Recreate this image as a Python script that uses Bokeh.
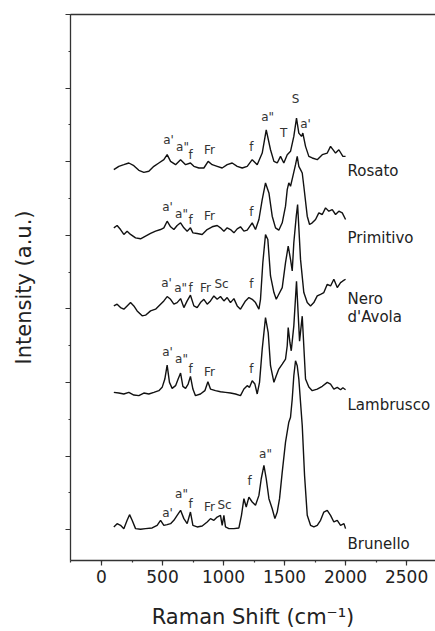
from bokeh.plotting import figure
from bokeh.models import Range1d, LinearAxis, SingleIntervalTicker, FixedTicker, CustomJSTickFormatter
from bokeh.core.properties import value
from bokeh.embed import file_html
from bokeh.resources import INLINE

# ---------------- data (Raman shift in cm-1, intensity in a.u., traces stacked) ----------------
rosato_x = [101, 142, 183, 224, 265, 306, 347, 388, 429, 470, 511, 538, 566, 607, 648, 689, 729, 757,
            798, 839, 874, 907, 948, 989, 1030, 1071, 1112, 1153, 1194, 1235, 1276, 1317, 1350, 1385,
            1413, 1440, 1467, 1494, 1522, 1549, 1576, 1598, 1617, 1639, 1650, 1672, 1699, 1727, 1768,
            1809, 1850, 1877, 1918, 1945, 1978, 2000]
rosato_y = [4.891, 4.937, 4.959, 4.982, 4.946, 4.882, 4.855, 4.869, 4.937, 4.982, 5.027, 5.095, 5.004,
            4.959, 5.027, 4.959, 4.982, 4.937, 4.914, 4.914, 5.004, 4.959, 4.937, 4.914, 4.959, 4.982,
            4.937, 4.914, 4.937, 5.027, 4.959, 5.117, 5.433, 5.162, 5.004, 4.982, 5.072, 4.982, 5.095,
            5.140, 5.343, 5.592, 5.388, 5.343, 5.388, 5.208, 5.072, 5.050, 5.027, 5.095, 5.117, 5.208,
            5.117, 5.162, 5.072, 5.072]

primitivo_x = [101, 128, 156, 183, 210, 238, 279, 320, 361, 402, 443, 484, 511, 538, 566, 593, 620, 648,
               675, 702, 729, 749, 784, 825, 866, 907, 948, 975, 1003, 1030, 1057, 1085, 1112, 1139,
               1167, 1194, 1235, 1262, 1290, 1317, 1344, 1372, 1399, 1426, 1453, 1481, 1508, 1522,
               1535, 1549, 1568, 1590, 1604, 1617, 1631, 1645, 1658, 1686, 1705, 1727, 1754, 1781,
               1809, 1836, 1863, 1891, 1918, 1945, 1973, 2000]
primitivo_y = [4.101, 4.133, 4.078, 4.011, 4.056, 4.011, 3.965, 3.952, 3.988, 4.024, 4.056, 4.078, 4.101,
               4.191, 4.115, 4.078, 4.133, 4.169, 4.101, 4.056, 4.101, 4.033, 4.024, 4.011, 4.078,
               4.115, 4.133, 4.101, 4.056, 4.101, 4.078, 4.033, 4.087, 4.115, 4.056, 4.069, 4.169,
               4.078, 4.214, 4.485, 4.711, 4.575, 4.259, 4.101, 4.069, 4.169, 4.395, 4.620, 4.711,
               4.666, 4.801, 4.959, 5.072, 4.937, 4.892, 4.846, 4.666, 4.259, 4.146, 4.169, 4.214,
               4.304, 4.282, 4.372, 4.327, 4.349, 4.282, 4.327, 4.304, 4.214]

nero_x = [101, 128, 156, 183, 210, 238, 265, 292, 333, 361, 402, 443, 484, 511, 538, 566, 593, 620, 648,
          675, 702, 729, 757, 784, 811, 839, 866, 893, 921, 948, 975, 1003, 1030, 1057, 1085, 1112,
          1139, 1180, 1208, 1235, 1262, 1290, 1303, 1322, 1344, 1363, 1385, 1413, 1432, 1453, 1481,
          1508, 1530, 1549, 1563, 1576, 1596, 1607, 1631, 1658, 1686, 1713, 1740, 1768, 1795, 1822,
          1850, 1877, 1904, 1932, 1959, 1978, 2000]
nero_y = [3.040, 3.063, 3.017, 2.995, 3.040, 3.085, 3.040, 2.972, 2.905, 2.914, 2.972, 2.995, 3.063,
          3.108, 3.167, 3.130, 3.063, 3.085, 3.139, 3.017, 3.108, 3.185, 3.040, 3.017, 3.085, 3.130,
          3.063, 3.108, 3.176, 3.130, 3.167, 3.108, 3.153, 3.085, 3.139, 3.040, 2.995, 3.108, 3.153,
          3.130, 3.085, 2.995, 3.130, 3.627, 4.011, 3.943, 3.447, 3.221, 3.130, 3.198, 3.289, 3.627,
          3.853, 3.672, 3.514, 3.898, 4.260, 4.418, 3.672, 3.221, 3.085, 3.040, 3.085, 3.176, 3.198,
          3.221, 3.334, 3.311, 3.402, 3.289, 3.356, 3.379, 3.402]

lambrusco_x = [101, 142, 183, 224, 265, 306, 347, 388, 429, 470, 497, 519, 538, 557, 579, 607, 628, 648,
               667, 689, 710, 729, 749, 770, 811, 847, 872, 893, 934, 975, 1016, 1057, 1098, 1139,
               1167, 1194, 1213, 1235, 1257, 1276, 1295, 1317, 1344, 1366, 1385, 1413, 1432, 1453,
               1481, 1508, 1522, 1530, 1544, 1555, 1576, 1598, 1623, 1645, 1672, 1699, 1727, 1768,
               1809, 1850, 1877, 1904, 1932, 1959, 1978, 2000]
lambrusco_y = [1.865, 1.856, 1.843, 1.865, 1.829, 1.820, 1.856, 1.843, 1.865, 1.888, 1.933, 2.046, 2.236,
               2.001, 1.919, 1.956, 2.046, 2.127, 1.947, 1.919, 1.978, 2.082, 1.910, 1.820, 1.843,
               1.888, 2.010, 1.910, 1.888, 1.874, 1.865, 1.856, 1.843, 1.820, 1.910, 1.956, 1.933,
               2.023, 1.978, 1.843, 2.001, 2.452, 2.882, 2.678, 2.227, 2.001, 2.091, 2.181, 2.249,
               2.317, 2.498, 2.746, 2.543, 2.430, 2.769, 3.374, 2.561, 2.900, 2.046, 1.937, 1.888,
               1.910, 1.947, 2.001, 1.978, 1.910, 1.933, 1.901, 1.928, 1.901]

brunello_x = [101, 128, 156, 183, 210, 230, 251, 279, 320, 361, 415, 456, 484, 511, 538, 566, 593, 620,
              648, 675, 702, 729, 749, 784, 825, 866, 893, 921, 948, 975, 989, 1003, 1016, 1044, 1085,
              1126, 1147, 1167, 1186, 1208, 1235, 1262, 1290, 1309, 1331, 1350, 1372, 1399, 1421,
              1440, 1459, 1481, 1508, 1535, 1549, 1563, 1576, 1590, 1604, 1617, 1645, 1664, 1686,
              1713, 1740, 1768, 1795, 1822, 1850, 1877, 1904, 1932, 1959, 1987, 2000]
brunello_y = [0.036, 0.081, 0.058, 0.013, 0.126, 0.203, 0.126, 0.013, 0.004, 0.013, 0.022, 0.058, 0.126,
              0.058, 0.067, 0.081, 0.126, 0.194, 0.262, 0.149, 0.081, 0.239, 0.058, 0.036, 0.049,
              0.104, 0.149, 0.126, 0.171, 0.194, 0.058, 0.194, 0.036, 0.013, 0.013, 0.022, 0.194,
              0.420, 0.307, 0.442, 0.375, 0.330, 0.465, 0.691, 0.872, 0.691, 0.420, 0.284, 0.149,
              0.239, 0.420, 0.781, 1.188, 1.459, 1.526, 1.775, 2.091, 2.294, 2.227, 2.046, 1.414,
              0.736, 0.194, 0.058, 0.036, 0.058, 0.126, 0.239, 0.262, 0.194, 0.104, 0.126, 0.058,
              0.081, 0.013]

# peak assignment labels
peak_text = ["a'", 'a"', "f", "Fr", "f", 'a"', "T", "S", "a'",
             "a'", 'a"', "f", "Fr", "f",
             "a'", 'a"', "f", "Fr", "Sc", "f",
             "a'", 'a"', "f", "Fr", "f",
             "a'", 'a"', "f", "Fr", "Sc", "f", 'a"']
peak_x = [549, 664, 730, 885, 1229, 1361, 1492, 1590, 1672,
          541, 656, 730, 885, 1229,
          533, 648, 730, 852, 984, 1229,
          541, 656, 730, 885, 1229,
          541, 656, 730, 885, 1008, 1213, 1344]
peak_y = [5.298, 5.203, 5.095, 5.163, 5.203, 5.610, 5.393, 5.854, 5.515,
          4.390, 4.295, 4.201, 4.255, 4.322,
          3.347, 3.279, 3.279, 3.279, 3.333, 3.333,
          2.412, 2.317, 2.182, 2.141, 2.182,
          0.230, 0.488, 0.352, 0.312, 0.339, 0.664, 1.030]

# wine names
name_text = ["Rosato", "Primitivo", "Nero", "d'Avola", "Lambrusco", "Brunello"]
name_x = [2016, 2016, 2016, 2016, 2016, 2016]
name_y = [4.878, 3.957, 3.130, 2.886, 1.694, -0.190]

x_ticks_major = 500
y_ticks_major = 1

# ---------------- figure ----------------
FONT = "DejaVu Sans"
p = figure(width=435, height=631, output_backend="svg", toolbar_location=None,
           x_range=Range1d(-254, 2737), y_range=Range1d(-0.42, 7.0),
           min_border_left=70, min_border_right=0, min_border_top=14, min_border_bottom=69,
           background_fill_color="white", border_fill_color="white")
p.outline_line_color = None
p.xgrid.grid_line_color = None
p.ygrid.grid_line_color = None

series = [(rosato_x, rosato_y), (primitivo_x, primitivo_y), (nero_x, nero_y),
          (lambrusco_x, lambrusco_y), (brunello_x, brunello_y)]
for xs, ys in series:
    p.line(xs, ys, line_color="#111111", line_width=1.4)

p.text(x=peak_x, y=peak_y, text=peak_text, text_font=value(FONT), text_font_size="12px",
       text_color="#333333", text_align="center", text_baseline="middle")
p.text(x=name_x, y=name_y, text=name_text, text_font=value(FONT), text_font_size="15px",
       text_color="#222222", text_align="left", text_baseline="middle")

AX = "#333333"
xa = p.xaxis[0]
xa.ticker = SingleIntervalTicker(interval=x_ticks_major, num_minor_ticks=2)
xa.axis_label = "Raman Shift (cm\u207b\u00b9)"
ya = p.yaxis[0]
ya.ticker = SingleIntervalTicker(interval=y_ticks_major, num_minor_ticks=2)
ya.axis_label = "Intensity (a.u.)"
ya.formatter = CustomJSTickFormatter(code="return ''")
ya.major_label_standoff = 0

for ax in (xa, ya):
    ax.axis_line_color = AX
    ax.axis_line_width = 1.3
    ax.major_tick_line_color = AX
    ax.minor_tick_line_color = AX
    ax.major_tick_line_width = 1.2
    ax.minor_tick_line_width = 1.2
    ax.major_tick_in = 0
    ax.major_tick_out = 5
    ax.minor_tick_in = 0
    ax.minor_tick_out = 2
    ax.axis_label_text_font = FONT
    ax.axis_label_text_font_size = "21px"
    ax.axis_label_text_font_style = "normal"
    ax.axis_label_text_color = "#222222"
    ax.major_label_text_font = FONT
    ax.major_label_text_color = "#222222"

xa.major_label_text_font_size = "17px"
xa.major_label_standoff = 4
xa.axis_label_standoff = 19
ya.axis_label_standoff = 30

top = LinearAxis(ticker=FixedTicker(ticks=[]), axis_line_color=AX, axis_line_width=1.3,
                 major_tick_line_color=None, minor_tick_line_color=None,
                 major_label_text_font_size="0px")
p.add_layout(top, "above")

open("out.html", "w").write(file_html(p, INLINE))
